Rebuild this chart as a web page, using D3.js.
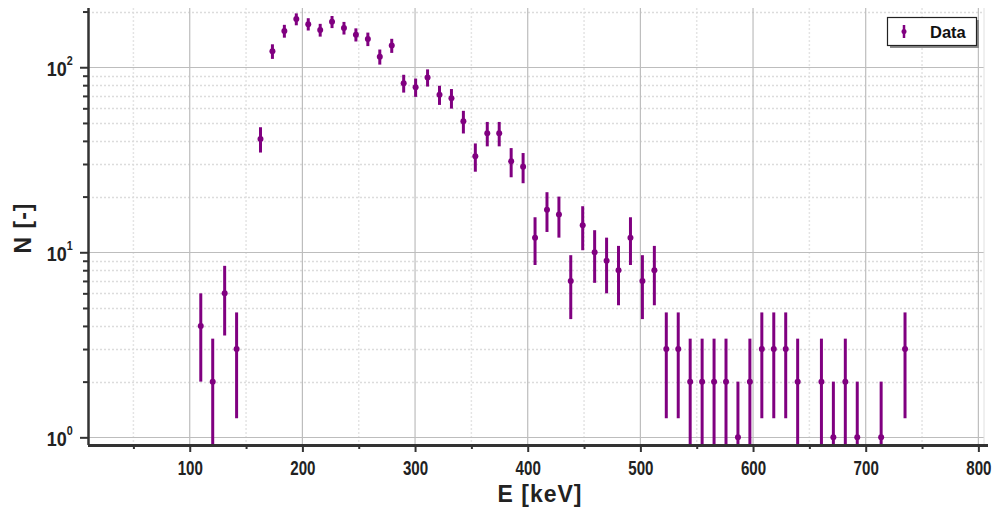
<!DOCTYPE html>
<html>
<head>
<meta charset="utf-8">
<script src="https://cdn.jsdelivr.net/npm/d3@7"></script>
<style>
  html, body { margin: 0; padding: 0; background: #fff; }
  svg { display: block; font-family: "Liberation Sans", Arial, sans-serif; }
</style>
</head>
<body>
<svg id="chart" width="997" height="509"></svg>
<script>
// Bin centres (keV) and counts of the energy spectrum
const energies = [
  109.8, 120.4, 131.0, 141.6, 162.8, 173.4, 184.0, 194.6, 205.2, 215.8,
  226.3, 236.9, 247.5, 258.1, 268.7, 279.3, 289.9, 300.5, 311.1, 321.7,
  332.3, 342.9, 353.5, 364.1, 374.7, 385.3, 395.9, 406.5, 417.1, 427.7,
  438.2, 448.8, 459.4, 470.0, 480.6, 491.2, 501.8, 512.4, 523.0, 533.6,
  544.2, 554.8, 565.4, 576.0, 586.6, 597.2, 607.8, 618.4, 629.0, 639.6,
  660.7, 671.3, 681.9, 692.5, 713.7, 734.9
];
const counts = [
  4, 2, 6, 3, 41, 122, 157, 182, 171, 159,
  176, 163, 150, 142, 114, 131, 82, 78, 88, 71,
  68, 51, 33, 44, 44, 31, 29, 12, 17, 16,
  7, 14, 10, 9, 8, 12, 7, 8, 3, 3,
  2, 2, 2, 2, 1, 2, 3, 3, 3, 2,
  2, 1, 2, 1, 1, 3
];
const xTicks = [100, 200, 300, 400, 500, 600, 700, 800];
const xMinorTicks = [50, 150, 250, 350, 450, 550, 650, 750];
const yTicks = [1, 10, 100];
const yMinorTicks = [2, 3, 4, 5, 6, 7, 8, 9, 20, 30, 40, 50, 60, 70, 80, 90, 200];
const seriesName = "Data";

const purple = "#800080";
const svg = d3.select("#chart");
const plot = { left: 88, right: 984, top: 8, bottom: 445 };

const x = d3.scaleLinear().domain([9.7, 805]).range([plot.left, plot.right]);
const y = d3.scaleLog().domain([0.909, 209]).range([plot.bottom, plot.top]);

// grid: dotted minor lines first, solid decade / hundred lines on top
const grid = svg.append("g");
grid.selectAll(".gxm").data(xMinorTicks).join("line")
  .attr("x1", d => x(d)).attr("x2", d => x(d))
  .attr("y1", plot.top).attr("y2", plot.bottom)
  .attr("stroke", "#e4e4e4").attr("stroke-width", 1.5).attr("stroke-dasharray", "2,2");
grid.selectAll(".gym").data(yMinorTicks).join("line")
  .attr("x1", plot.left).attr("x2", plot.right)
  .attr("y1", d => Math.round(y(d)) + 0.5).attr("y2", d => Math.round(y(d)) + 0.5)
  .attr("stroke", "#dcdcdc").attr("stroke-width", 1.5).attr("stroke-dasharray", "2,2");
grid.selectAll(".gx").data(xTicks).join("line")
  .attr("x1", d => x(d)).attr("x2", d => x(d))
  .attr("y1", plot.top).attr("y2", plot.bottom)
  .attr("stroke", "#bdbdbd").attr("stroke-width", 1.2);
grid.selectAll(".gy").data(yTicks).join("line")
  .attr("x1", plot.left).attr("x2", plot.right)
  .attr("y1", d => Math.round(y(d)) + 0.5).attr("y2", d => Math.round(y(d)) + 0.5)
  .attr("stroke", "#bdbdbd").attr("stroke-width", 1.2);
// light frame on the right side
grid.append("line")
  .attr("x1", plot.right).attr("x2", plot.right)
  .attr("y1", plot.top).attr("y2", plot.bottom)
  .attr("stroke", "#e0e0e0").attr("stroke-width", 1);

// data with Poisson (sqrt N) error bars, clipped to the plot area
svg.append("clipPath").attr("id", "clip").append("rect")
  .attr("x", plot.left).attr("y", plot.top)
  .attr("width", plot.right - plot.left).attr("height", plot.bottom - plot.top);

const pts = energies.map((e, i) => ({ e, n: counts[i] }));
const marks = svg.append("g").attr("clip-path", "url(#clip)");
marks.selectAll(".err").data(pts).join("line")
  .attr("x1", d => x(d.e)).attr("x2", d => x(d.e))
  .attr("y1", d => y(d.n + Math.sqrt(d.n)))
  .attr("y2", d => { const lo = d.n - Math.sqrt(d.n); return lo > 0 ? y(lo) : plot.bottom + 5; })
  .attr("stroke", purple).attr("stroke-width", 3);
marks.selectAll(".dot").data(pts).join("circle")
  .attr("cx", d => x(d.e)).attr("cy", d => y(d.n))
  .attr("r", 3).attr("fill", purple);

// axes
const axisColor = "#333";
const xAxis = svg.append("g").attr("transform", `translate(0,${plot.bottom})`)
  .call(d3.axisBottom(x).tickValues(xTicks).tickSize(7).tickFormat(d3.format("d")));
svg.append("g").attr("transform", `translate(0,${plot.bottom})`)
  .call(d3.axisBottom(x).tickValues(xMinorTicks).tickSize(4).tickFormat(""))
  .call(g => g.select(".domain").remove());

const yAxis = svg.append("g").attr("transform", `translate(${plot.left},0)`)
  .call(d3.axisLeft(y).tickValues(yTicks).tickSize(8).tickFormat(""));
svg.append("g").attr("transform", `translate(${plot.left},0)`)
  .call(d3.axisLeft(y).tickValues(yMinorTicks).tickSize(5).tickFormat(""))
  .call(g => g.select(".domain").remove());

svg.selectAll(".tick line").attr("stroke", axisColor).attr("stroke-width", 2);
xAxis.select(".domain").attr("stroke", axisColor).attr("stroke-width", 3)
  .attr("d", `M${plot.left},0.5H${plot.right + 4}`);
yAxis.select(".domain").attr("stroke", axisColor).attr("stroke-width", 2.5)
  .attr("d", `M0.5,${plot.top}V${plot.bottom}`);

// x tick labels: tall, slightly condensed bold digits
xAxis.selectAll(".tick text")
  .attr("font-size", 18).attr("font-weight", "bold").attr("fill", "#222")
  .attr("transform", "scale(0.84,1.12)")
  .attr("x", 0).attr("y", 26.5).attr("dy", 0);

// y tick labels as 10 with superscript exponent
yAxis.selectAll(".tick").each(function (d) {
  const g = d3.select(this);
  g.select("text").remove();
  const t = g.append("text")
    .attr("x", -17).attr("y", 7.5)
    .attr("text-anchor", "end").attr("fill", "#222")
    .attr("font-weight", "bold")
    .attr("transform", "scale(0.9,1.05)");
  t.append("tspan").attr("font-size", 20).text("10");
  t.append("tspan").attr("font-size", 12).attr("dy", -10).text(Math.round(Math.log10(d)));
});

// axis titles
svg.append("text")
  .attr("x", 540).attr("y", 502)
  .attr("text-anchor", "middle").attr("font-size", 23).attr("font-weight", "bold")
  .attr("letter-spacing", 1).attr("fill", "#222").text("E [keV]");
svg.append("text")
  .attr("transform", "translate(31,228) rotate(-90)")
  .attr("text-anchor", "middle").attr("font-size", 23).attr("font-weight", "bold")
  .attr("letter-spacing", 1).attr("fill", "#222").text("N [-]");

// legend
const lg = svg.append("g").attr("transform", "translate(887,17)");
lg.append("rect").attr("x", 3).attr("y", 3).attr("width", 89).attr("height", 28).attr("fill", "#8a8a8a");
lg.append("rect").attr("x", 0.5).attr("y", 0.5).attr("width", 89).attr("height", 28)
  .attr("fill", "#fff").attr("stroke", "#222").attr("stroke-width", 1.2);
lg.append("line").attr("x1", 17).attr("x2", 17).attr("y1", 8).attr("y2", 21)
  .attr("stroke", purple).attr("stroke-width", 2.5);
lg.append("circle").attr("cx", 17).attr("cy", 14.5).attr("r", 2.5).attr("fill", purple);
lg.append("text").attr("x", 43).attr("y", 20.5).attr("font-size", 16.5).attr("font-weight", "bold")
  .attr("fill", "#111").text(seriesName);
</script>
</body>
</html>
